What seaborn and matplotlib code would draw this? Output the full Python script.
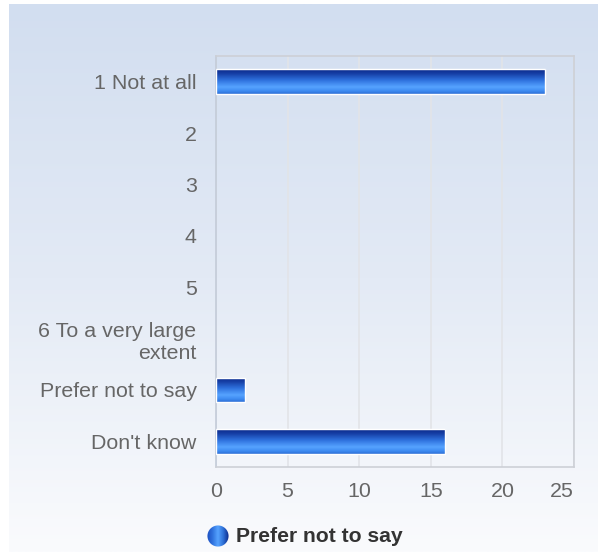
import numpy as np
import pandas as pd
import seaborn as sns
import matplotlib.pyplot as plt
from matplotlib.colors import LinearSegmentedColormap
from matplotlib.patches import Circle

# data
categories = ["1 Not at all", "2", "3", "4", "5", "6 To a very large\nextent",
              "Prefer not to say", "Don't know"]
values = [23, 0, 0, 0, 0, 0, 2, 16]
x_ticks = [0, 5, 10, 15, 20, 25]
series_name = "Prefer not to say"

df = pd.DataFrame({'category': categories, 'count': values})

sns.set_theme(style='white')
plt.rcParams['font.family'] = ['Liberation Sans', 'DejaVu Sans']

W, H = 598, 552
fig = plt.figure(figsize=(W / 100, H / 100), dpi=100)
fig.patch.set_facecolor('white')

# background panel gradient
bg = fig.add_axes([9 / W, 0, 1 - 9 / W, 1 - 4 / H], zorder=-5)
bg_cmap = LinearSegmentedColormap.from_list('bg', ['#d2def0', '#e3eaf5', '#fafbfd'])
bg.imshow(np.linspace(0, 1, 256).reshape(-1, 1), cmap=bg_cmap, aspect='auto',
          extent=(0, 1, 0, 1), origin='upper')
bg.set_axis_off()

# main plot
ax = fig.add_axes([216 / W, 1 - 467 / H, (574 - 216) / W, (467 - 56) / H])
ax.set_facecolor('none')
sns.barplot(data=df, x='count', y='category', orient='h', width=0.48,
            color='#2f6fd8', ax=ax, zorder=3)

bar_cmap = LinearSegmentedColormap.from_list(
    'bar', [(0.0, '#0b2a8a'), (0.18, '#163fa6'), (0.45, '#2f72de'),
            (0.72, '#56a3ff'), (0.88, '#3f8cf2'), (1.0, '#2d6fd6')])
grad = np.linspace(0, 1, 64).reshape(-1, 1)
for p in ax.patches:
    w = p.get_width()
    if w <= 0:
        p.set_visible(False)
        continue
    y0 = p.get_y()
    h = p.get_height()
    im = ax.imshow(grad, cmap=bar_cmap, aspect='auto', origin='upper',
                   extent=(0, w, y0 + h, y0), zorder=3, interpolation='bilinear')
    im.set_clip_path(p)
    p.set_facecolor('none')
    p.set_edgecolor('white')
    p.set_linewidth(1.0)
    p.set_zorder(4)

ax.set_xlim(0, 25)
ax.set_ylim(len(categories) - 0.5, -0.5)
ax.set_xticks(x_ticks)
ax.set_xticklabels([str(t) for t in x_ticks])
ax.xaxis.grid(True, color='#e2e4e8', linewidth=1.2, zorder=0)
ax.yaxis.grid(False)
ax.set_axisbelow(True)
ax.tick_params(axis='both', length=0, labelsize=15.4, labelcolor='#666666')
ax.tick_params(axis='x', pad=11)
ax.tick_params(axis='y', pad=14)
ax.get_xticklabels()[-1].set_ha('right')
ax.set_xlabel('')
ax.set_ylabel('')
for s in ax.spines.values():
    s.set_visible(True)
    s.set_color('#cdd0d6')
    s.set_linewidth(1.2)
ax.spines['left'].set_color('#c3cbd8')

# legend
cax = fig.add_axes([207 / W, 1 - 547 / H, 22 / W, 22 / H])
cax.set_axis_off()
leg_cmap = LinearSegmentedColormap.from_list(
    'leg', ['#1c4fc0', '#2f72de', '#56a3ff', '#2d6fd6', '#0b2a8a'])
im = cax.imshow(np.linspace(0, 1, 64).reshape(1, -1), cmap=leg_cmap,
                aspect='auto', extent=(0, 1, 0, 1))
circ = Circle((0.5, 0.5), 0.48, transform=cax.transData, facecolor='none',
              edgecolor='none')
cax.add_patch(circ)
im.set_clip_path(circ)
cax.set_xlim(0, 1)
cax.set_ylim(0, 1)

fig.text(236 / W, 1 - 537 / H, series_name, fontsize=15.2, fontweight='bold',
         color='#333333', va='center', ha='left')

plt.savefig('out.png', dpi=100)
